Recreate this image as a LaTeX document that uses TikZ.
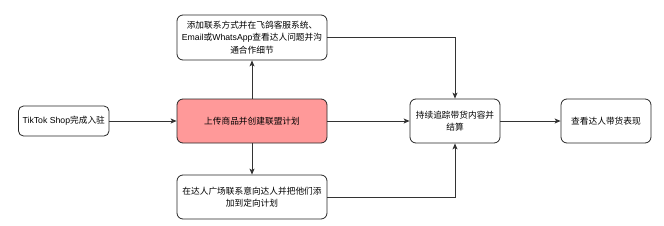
\documentclass[tikz,border=0pt]{standalone}
\usepackage{fontspec}
\setmainfont{Noto Sans CJK SC}
\newfontfamily\latinf{Liberation Sans}
\usetikzlibrary{arrows.meta}
\definecolor{boxred}{HTML}{FF9999}
\begin{document}
\begin{tikzpicture}[x=1pt,y=-1pt,
  box/.style={draw=black!85, line width=0.8pt, rounded corners=6pt, align=center, font=\fontsize{8.7}{12.5}\selectfont, inner sep=0pt},
  conn/.style={draw=black!80, line width=0.8pt, -{Stealth[length=6pt,width=5pt,inset=1.5pt]}}]
\useasboundingbox (0,0) rectangle (664,225);
\node[box, minimum width=90.5pt, minimum height=30pt, rounded corners=5pt] (tt) at (63.75,121) {{\latinf TikTok Shop}完成入驻};
\node[box, fill=boxred, minimum width=150pt, minimum height=44pt] (up) at (252,121) {上传商品并创建联盟计划};
\node[box, minimum width=150pt, minimum height=45pt] (top) at (252,37.5) {添加联系方式并在飞鸽客服系统、\\{\latinf Email}或{\latinf WhatsApp}查看达人问题并沟\\通合作细节};
\node[box, minimum width=150pt, minimum height=44pt] (bot) at (252,197) {在达人广场联系意向达人并把他们添\\加到定向计划};
\node[box, minimum width=90pt, minimum height=44pt] (trk) at (455,121) {持续追踪带货内容并\\结算};
\node[box, minimum width=90pt, minimum height=44pt] (show) at (606,121) {查看达人带货表现};
\draw[conn] (tt) -- (up);
\draw[conn] (up) -- (top);
\draw[conn] (up) -- (bot);
\draw[conn] (up) -- (trk);
\draw[conn] (trk) -- (show);
\draw[conn] (top.east) -| (trk.north);
\draw[conn] (bot.east) -| (trk.south);
\end{tikzpicture}
\end{document}
